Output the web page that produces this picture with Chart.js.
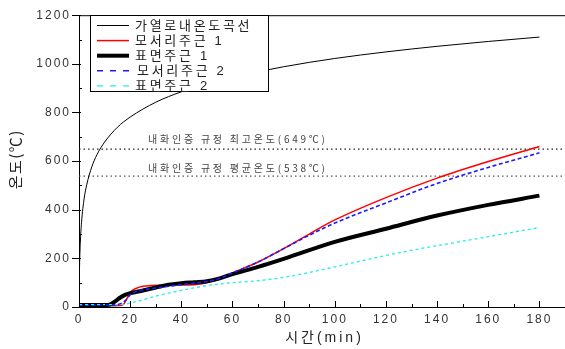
<!DOCTYPE html>
<html>
<head>
<meta charset="utf-8">
<script src="https://cdn.jsdelivr.net/npm/chart.js@4.4.0/dist/chart.umd.min.js"></script>
<style>
  html, body { margin: 0; padding: 0; background: #fff; }
  #wrap { width: 565px; height: 349px; }
</style>
</head>
<body>
<div id="wrap"><canvas id="c"></canvas></div>
<script>
// 가열로내온도곡선 (furnace)
const furnaceTime = [0, 0.25, 0.5, 1, 2, 3, 5, 7, 10, 15, 20, 30, 40, 50, 60, 80, 100, 120, 140, 160, 180];
const furnaceTemp = [20, 184, 261, 349, 445, 502, 576, 626, 678, 739, 781, 842, 885, 918, 945, 988, 1022, 1049, 1072, 1092, 1110];

// 모서리주근 1
const edge1Time = [0, 10, 16, 17.5, 19, 20, 22, 25, 28, 35, 40, 45, 50, 55, 60, 70, 80, 90, 100, 120, 140, 160, 180];
const edge1Temp = [5, 5, 6, 12, 40, 60, 75, 85, 88, 90, 90, 92, 100, 115, 140, 185, 240, 300, 358, 450, 530, 598, 660];

// 표면주근 1
const face1Time = [0, 10, 12, 14, 16, 18, 20, 25, 30, 35, 40, 45, 50, 55, 60, 70, 80, 100, 120, 140, 160, 180];
const face1Temp = [8, 8, 10, 22, 38, 50, 57, 68, 80, 92, 98, 102, 106, 118, 135, 165, 198, 268, 322, 376, 420, 458];

// 모서리주근 2
const edge2Time = [0, 12, 15, 18, 20, 22, 25, 30, 40, 50, 55, 60, 70, 80, 90, 100, 120, 140, 160, 180];
const edge2Temp = [8, 8, 10, 25, 50, 62, 70, 78, 92, 105, 118, 140, 185, 240, 295, 345, 428, 508, 574, 634];

// 표면주근 2
const face2Time = [0, 15, 18, 20, 25, 30, 40, 50, 60, 70, 80, 90, 100, 110, 120, 133, 140, 160, 180];
const face2Temp = [10, 10, 12, 16, 30, 45, 68, 88, 100, 108, 122, 142, 165, 189, 212, 239, 252, 289, 327];

// 기준선
const limitMax = 649;
const limitAvg = 538;
const limitLabels = ['내화인증 규정 최고온도(649℃)', '내화인증 규정 평균온도(538℃)'];

const FONT = '"Liberation Sans", "Noto Sans CJK KR", sans-serif';
const CJK = '"Noto Sans CJK KR", "Liberation Sans", sans-serif';

function pts(xs, ys) {
  return xs.map((x, i) => ({ x: x, y: ys[i] }));
}

const series = [
  { label: '가열로내온도곡선', data: pts(furnaceTime, furnaceTemp), borderColor: '#000', borderWidth: 1, dash: [], order: 5 },
  { label: '모서리주근 1', data: pts(edge1Time, edge1Temp), borderColor: '#ff0000', borderWidth: 1.5, dash: [], order: 4 },
  { label: '표면주근 1', data: pts(face1Time, face1Temp), borderColor: '#000', borderWidth: 4, dash: [], order: 3 },
  { label: '모서리주근 2', data: pts(edge2Time, edge2Temp), borderColor: '#1a1aff', borderWidth: 1.6, dash: [4, 2.5], order: 2 },
  { label: '표면주근 2', data: pts(face2Time, face2Temp), borderColor: '#22eeee', borderWidth: 1.3, dash: [3, 3], order: 1 }
];

const datasets = series.map(s => ({
  label: s.label,
  data: s.data,
  borderColor: s.borderColor,
  borderWidth: s.borderWidth,
  borderDash: s.dash,
  pointRadius: 0,
  fill: false,
  cubicInterpolationMode: 'monotone',
  order: s.order
}));

// dotted limit lines
[limitMax, limitAvg].forEach((v, i) => {
  datasets.push({
    label: 'limit' + i,
    data: [{ x: 0, y: v }, { x: 190, y: v }],
    borderColor: i === 0 ? '#222' : '#555',
    borderWidth: 1.2,
    borderDash: [1.5, 3],
    pointRadius: 0,
    fill: false,
    order: 10
  });
});

// draw text one char at a time so the spacing is under control
function spaced(ctx, text, x, y, spacing, align) {
  ctx.letterSpacing = '0px';
  const chars = Array.from(text);
  const widths = chars.map(c => ctx.measureText(c).width);
  const total = widths.reduce((a, b) => a + b, 0) + spacing * (chars.length - 1);
  let cx = align === 'center' ? x - total / 2 : align === 'right' ? x - total : x;
  ctx.textAlign = 'left';
  chars.forEach((c, i) => {
    ctx.fillText(c, cx, y);
    cx += widths[i] + spacing;
  });
}

// same, but stretched to a given width
function fitted(ctx, text, x, y, width) {
  ctx.letterSpacing = '0px';
  const chars = Array.from(text);
  const w = chars.reduce((a, c) => a + ctx.measureText(c).width, 0);
  spaced(ctx, text, x, y, (width - w) / (chars.length - 1), 'left');
}

const decor = {
  id: 'decor',
  beforeDraw(chart) {
    chart.ctx.letterSpacing = '2px';
  },
  afterDraw(chart) {
    const ctx = chart.ctx;
    const xs = chart.scales.x, ys = chart.scales.y;
    const a = chart.chartArea;
    ctx.save();
    ctx.strokeStyle = '#000';
    ctx.lineWidth = 1;

    // top frame
    ctx.beginPath();
    ctx.moveTo(a.left, a.top + 0.5);
    ctx.lineTo(a.right, a.top + 0.5);
    ctx.stroke();

    // x ticks (inside)
    ctx.beginPath();
    for (let v = 0; v <= 190; v += 10) {
      const px = Math.round(xs.getPixelForValue(v)) + 0.5;
      const len = v % 20 === 0 ? 6 : 3;
      ctx.moveTo(px, a.bottom);
      ctx.lineTo(px, a.bottom - len);
    }
    // y ticks: major outside, minor inside
    for (let v = 0; v <= 1200; v += 100) {
      const py = Math.round(ys.getPixelForValue(v)) + 0.5;
      if (v % 200 === 0) {
        ctx.moveTo(a.left - 7, py);
        ctx.lineTo(a.left + 2, py);
      } else {
        ctx.moveTo(a.left, py);
        ctx.lineTo(a.left + 3, py);
      }
    }
    ctx.stroke();

    // limit labels
    ctx.fillStyle = '#444';
    ctx.font = '10px ' + CJK;
    ctx.textBaseline = 'middle';
    fitted(ctx, limitLabels[0], 148, ys.getPixelForValue(limitMax) - 10, 177);
    fitted(ctx, limitLabels[1], 148, ys.getPixelForValue(limitAvg) - 8, 177);

    // axis titles
    ctx.fillStyle = '#222';
    ctx.font = '14px ' + FONT;
    spaced(ctx, '시간(min)', 323, 338, 3, 'center');
    ctx.save();
    ctx.translate(15, 160);
    ctx.rotate(-Math.PI / 2);
    ctx.font = '15px ' + CJK;
    spaced(ctx, '온도(℃)', 0, 0, 1.5, 'center');
    ctx.restore();

    // legend
    const lx = 90.5, ly = 15.5, lw = 178, lh = 76;
    ctx.fillStyle = '#fff';
    ctx.fillRect(lx, ly, lw, lh);
    ctx.strokeStyle = '#000';
    ctx.lineWidth = 1;
    ctx.strokeRect(lx, ly, lw, lh);
    ctx.font = '13px ' + FONT;
    series.forEach((s, i) => {
      const y = 25.5 + i * 15.1;
      ctx.save();
      ctx.strokeStyle = s.borderColor;
      ctx.lineWidth = s.borderWidth;
      ctx.setLineDash(s.dash.length ? [6, 7] : []);
      ctx.beginPath();
      ctx.moveTo(97, y);
      ctx.lineTo(129, y);
      ctx.stroke();
      ctx.restore();
      ctx.fillStyle = '#222';
      spaced(ctx, s.label, i === 3 ? 137 : 135, y + 1, 2.7, 'left');
    });
    ctx.restore();
  }
};

new Chart(document.getElementById('c'), {
  type: 'line',
  data: { datasets: datasets },
  plugins: [decor],
  options: {
    responsive: true,
    maintainAspectRatio: false,
    animation: false,
    layout: { padding: { top: 11, right: 0, left: 0, bottom: 0 } },
    plugins: { legend: { display: false }, tooltip: { enabled: false } },
    scales: {
      x: {
        type: 'linear',
        min: 0,
        max: 190,
        afterFit: s => { s.height = 42; },
        grid: { display: false, drawTicks: false },
        border: { display: true, color: '#000', width: 1 },
        ticks: {
          stepSize: 20,
          includeBounds: false,
          maxRotation: 0,
          padding: 5,
          color: '#333',
          font: { family: FONT, size: 12 },
          callback: v => String(v)
        }
      },
      y: {
        min: 0,
        max: 1200,
        afterFit: s => { s.width = 79; },
        grid: { display: false, drawTicks: false },
        border: { display: true, color: '#000', width: 1 },
        ticks: {
          stepSize: 200,
          padding: 8,
          color: '#333',
          font: { family: FONT, size: 12 },
          callback: v => String(v)
        }
      }
    }
  }
});
</script>
</body>
</html>
